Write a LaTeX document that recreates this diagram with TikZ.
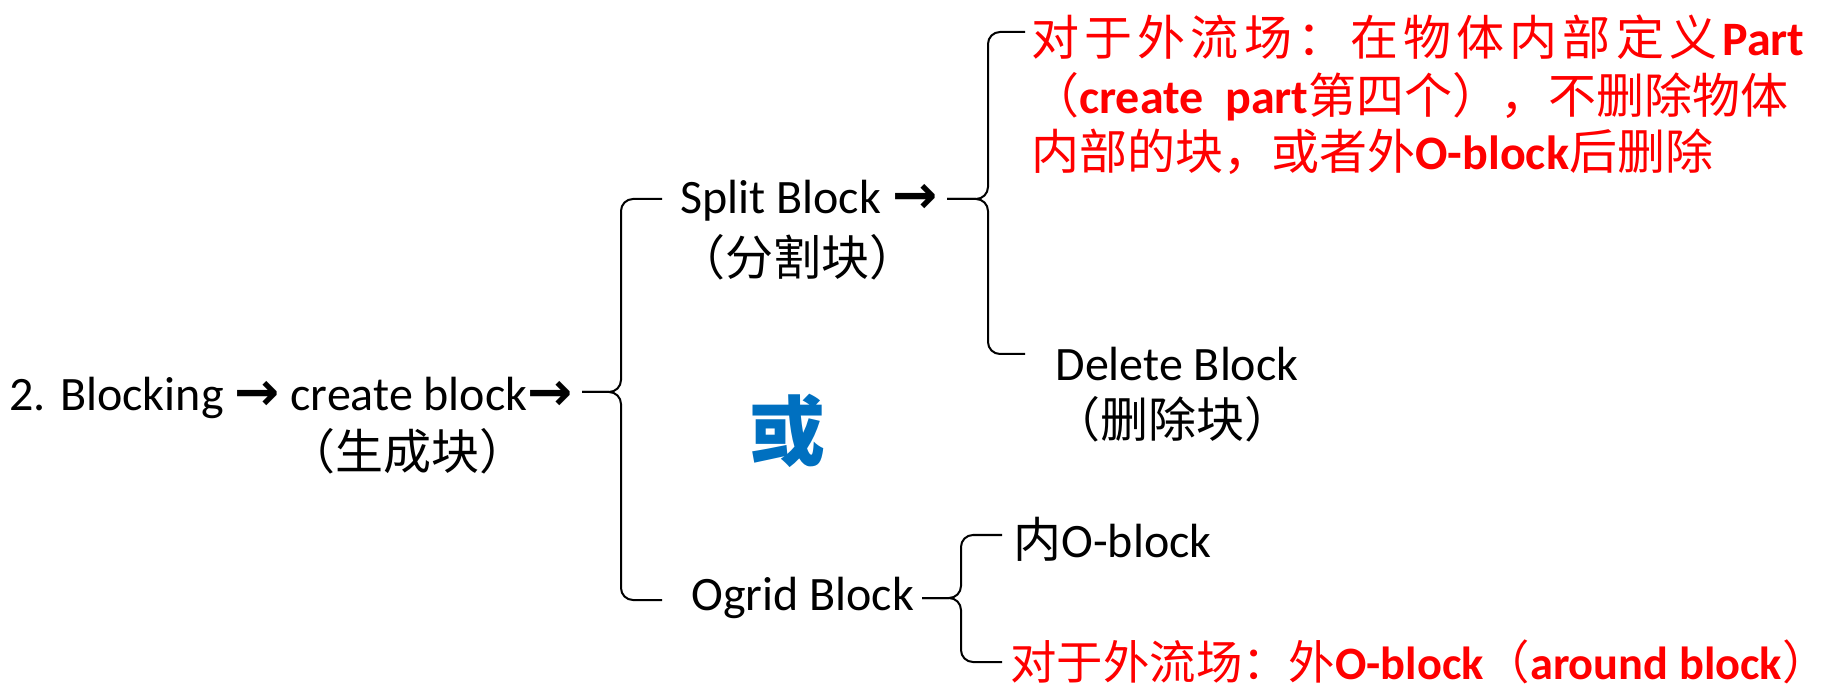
\documentclass[tikz,border=0pt]{standalone}
\usepackage{fontspec}
\setmainfont{Carlito}
\newfontfamily\cjk{Noto Sans CJK SC}
\newfontfamily\arrowfont{DejaVu Sans}
\definecolor{myred}{RGB}{255,0,0}
\definecolor{myblue}{RGB}{0,112,192}
\newcommand{\rarr}{{\arrowfont\bfseries\fontsize{27}{27}\selectfont →}}
\tikzset{
  x=0.5pt, y=-0.5pt,
  txt/.style={inner sep=0pt, font=\fontsize{24}{28}\selectfont, text=black},
  redtxt/.style={inner sep=0pt, font=\fontsize{24}{28}\selectfont\bfseries, text=myred, anchor=west},
  bracel/.style={draw=black, line width=1pt, rounded corners=6pt},
}
\begin{document}
\begin{tikzpicture}
\useasboundingbox (0,0) rectangle (1837,689);
% texts
\node[txt, anchor=west] (root) at (9,398) {2. Blocking \rarr{} create block\rarr};
\node[txt] (rootcn) at (407,451) {\cjk （生成块）};
\node[txt, anchor=west] (split) at (680,201) {Split Block \rarr};
\node[txt] (splitcn) at (797,257) {\cjk （分割块）};
\node[redtxt] (red1) at (1031,37) {\hbox to 386.5pt{{\cjk\mdseries 对\hfil 于\hfil 外\hfil 流\hfil 场\hfil ：\hfil 在\hfil 物\hfil 体\hfil 内\hfil 部\hfil 定\hfil 义}\hfil Part}};
\node[redtxt] (red2) at (1031,97) {{\cjk\mdseries （}create\ \ part{\cjk\mdseries 第四个），不删除物体}};
\node[redtxt] (red3) at (1031,152) {{\cjk\mdseries 内部的块，或者外}O-block{\cjk\mdseries 后删除}};
\node[txt] (delete) at (1177,364) {Delete Block};
\node[txt] (deletecn) at (1172,419) {\cjk （删除块）};
\node[inner sep=0pt, font=\cjk\fontsize{38}{40}\selectfont\bfseries, text=myblue] (huo) at (787,431) {或};
\node[txt, anchor=west] (ogrid) at (691,598) {Ogrid Block};
\node[txt, anchor=west] (inner) at (1013,539) {{\cjk 内}O-block};
\node[redtxt, font=\fontsize{23.2}{28}\selectfont\bfseries] (outer) at (1010,662) {{\cjk\mdseries 对于外流场：外}O-block{\cjk\mdseries （}around block{\cjk\mdseries ）}};
% brace 1
\coordinate (b1tip) at (582,392);
\coordinate (b1top) at (662,199);
\coordinate (b1bot) at (662,600);
\draw[bracel] (b1top) -- (621,199) -- (621,392) -- (b1tip);
\draw[bracel] (b1bot) -- (621,600) -- (621,392) -- (b1tip);
% brace 2
\coordinate (b2tip) at (947,199);
\coordinate (b2top) at (1025,32);
\coordinate (b2bot) at (1025,354);
\draw[bracel] (b2top) -- (988,32) -- (988,199) -- (b2tip);
\draw[bracel] (b2bot) -- (988,354) -- (988,199) -- (b2tip);
% brace 3
\coordinate (b3tip) at (922,598);
\coordinate (b3top) at (1002,535);
\coordinate (b3bot) at (1002,662);
\draw[bracel] (b3top) -- (961,535) -- (961,598) -- (b3tip);
\draw[bracel] (b3bot) -- (961,662) -- (961,598) -- (b3tip);
\end{tikzpicture}
\end{document}
